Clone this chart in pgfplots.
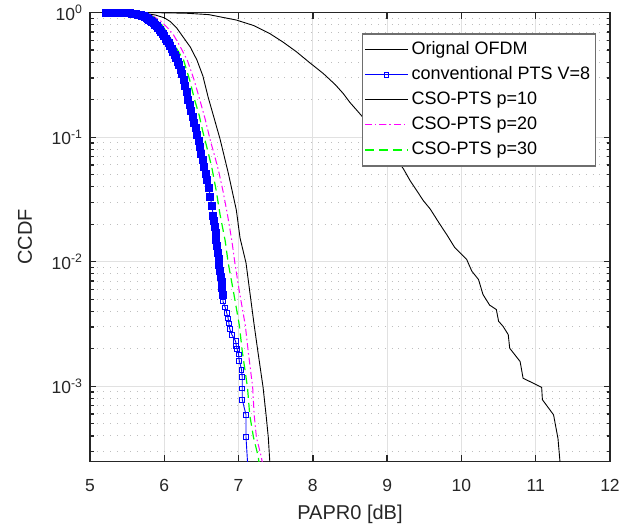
\documentclass[border=0pt]{standalone}
\usepackage{fontspec}
\setmainfont{Liberation Sans}
\usepackage{pgfplots}
\pgfplotsset{compat=1.18}

\definecolor{axgray}{RGB}{38,38,38}
\definecolor{gridgray}{RGB}{225,225,225}
\definecolor{minorgray}{RGB}{190,190,190}
\definecolor{leggray}{RGB}{110,110,110}
\definecolor{mgreen}{RGB}{0,255,0}
\definecolor{mmag}{RGB}{255,0,255}

\pgfplotstableread{
x y
5.25 1.0
5.50 1.0
6.00 0.998
6.30 0.99
6.60 0.965
6.97 0.873
7.20 0.79
7.42 0.68
7.60 0.58
7.78 0.485
7.95 0.40
8.14 0.325
8.30 0.265
8.41 0.224
8.50 0.19
8.63 0.155
8.80 0.118
9.00 0.085
9.22 0.0556
9.31 0.0447
9.49 0.0308
9.58 0.0265
9.71 0.0200
9.80 0.0166
9.91 0.0130
10.07 0.01045
10.14 0.0084
10.23 0.0072
10.29 0.00546
10.38 0.00448
10.47 0.00413
10.50 0.00333
10.56 0.00303
10.63 0.0026
10.65 0.00202
10.79 0.00158
10.83 0.00116
11.08 0.00098
11.09 0.00078
11.24 0.00059
11.30 0.00038
11.34 0.0002
}\orig

\pgfplotstableread{
x y
5.22 1.0
5.24 1.0
5.26 1.0
5.28 1.0
5.30 1.0
5.32 1.0
5.34 0.9998
5.36 0.9996
5.38 0.9994
5.40 0.9990
5.42 0.9984
5.44 0.9976
5.46 0.9966
5.48 0.9952
5.50 0.9935
5.52 0.9912
5.54 0.988
5.56 0.984
5.58 0.981
5.60 0.978
5.62 0.972
5.64 0.966
5.66 0.959
5.68 0.952
5.70 0.944
5.72 0.933
5.74 0.921
5.76 0.908
5.78 0.894
5.80 0.879
5.82 0.862
5.84 0.843
5.86 0.823
5.88 0.802
5.90 0.780
5.92 0.756
5.94 0.731
5.96 0.704
5.98 0.677
6.00 0.648
6.02 0.620
6.04 0.594
6.06 0.568
6.08 0.542
6.10 0.516
6.12 0.488
6.14 0.460
6.16 0.432
6.18 0.405
6.20 0.378
6.22 0.350
6.24 0.321
6.26 0.290
6.28 0.258
6.30 0.229
6.32 0.200
6.34 0.180
6.36 0.163
6.38 0.146
6.40 0.131
6.42 0.118
6.44 0.105
6.46 0.093
6.48 0.083
6.50 0.074
6.52 0.066
6.54 0.058
6.56 0.051
6.58 0.045
6.60 0.039
6.62 0.033
6.64 0.028
6.66 0.0235
6.67 0.0212
6.68 0.019
6.69 0.0169
6.70 0.0150
6.71 0.0133
6.72 0.0118
6.73 0.0105
6.74 0.0094
6.75 0.0085
6.76 0.0076
6.77 0.0069
6.78 0.0062
6.79 0.0054
}\ptsdense

\pgfplotstableread{
x y
6.79 0.0054
6.79 0.0048
6.82 0.0043
6.84 0.0039
6.86 0.0035
6.87 0.0032
6.88 0.0029
6.91 0.0026
6.96 0.0023
6.97 0.0021
6.98 0.0020
7.00 0.0018
7.01 0.0016
7.04 0.00136
7.05 0.00118
7.05 0.00096
7.05 0.00078
7.10 0.00059
7.10 0.00039
}\ptstail

\pgfplotstableread{
x y
7.10 0.00039
7.13 0.0002
}\ptsend

\pgfplotstableread{
x y
5.25 1.0
5.50 0.999
5.70 0.99
5.875 0.96
6.00 0.91
6.08 0.85
6.17 0.75
6.26 0.63
6.35 0.53
6.44 0.416
6.52 0.31
6.59 0.21
6.66 0.15
6.75 0.097
6.86 0.052
6.97 0.026
7.02 0.0155
7.10 0.0098
7.15 0.0058
7.21 0.0031
7.26 0.0019
7.33 0.00098
7.37 0.00059
7.40 0.00039
7.43 0.0002
}\pten

\pgfplotstableread{
x y
5.25 1.0
5.50 0.998
5.70 0.985
5.85 0.94
5.95 0.86
6.05 0.75
6.12 0.67
6.21 0.54
6.31 0.416
6.40 0.29
6.48 0.198
6.55 0.14
6.62 0.094
6.68 0.070
6.73 0.054
6.79 0.037
6.85 0.024
6.91 0.0147
6.95 0.0098
7.01 0.0058
7.09 0.0031
7.13 0.0019
7.19 0.00098
7.21 0.00059
7.24 0.00039
7.30 0.00028
7.35 0.0002
}\ptwenty

\pgfplotstableread{
x y
5.25 1.0
5.50 0.998
5.70 0.985
5.85 0.93
5.95 0.83
6.03 0.70
6.10 0.60
6.18 0.50
6.26 0.416
6.34 0.29
6.41 0.198
6.47 0.15
6.52 0.11
6.58 0.080
6.64 0.057
6.70 0.037
6.75 0.024
6.82 0.0147
6.86 0.0098
6.93 0.0058
7.01 0.0031
7.05 0.0019
7.12 0.00098
7.15 0.00059
7.20 0.00039
7.26 0.00028
7.30 0.0002
}\pthirty

\begin{document}
\begin{tikzpicture}
\begin{axis}[
  scale only axis,
  width=520pt, height=448.5pt,
  xmin=5, xmax=12,
  ymode=log, ymin=2.5e-4, ymax=1,
  xtick={5,6,7,8,9,10,11,12},
  xticklabels={5,6,7,8,9,10,11,12},
  ytick={1e-3,1e-2,1e-1,1},
  yticklabels={10\textsuperscript{-3},10\textsuperscript{-2},10\textsuperscript{-1},10\textsuperscript{0}},
  minor ytick={3e-4,4e-4,5e-4,6e-4,7e-4,8e-4,9e-4,
               2e-3,3e-3,4e-3,5e-3,6e-3,7e-3,8e-3,9e-3,
               2e-2,3e-2,4e-2,5e-2,6e-2,7e-2,8e-2,9e-2,
               2e-1,3e-1,4e-1,5e-1,6e-1,7e-1,8e-1,9e-1},
  xmajorgrids, ymajorgrids, yminorgrids,
  major grid style={gridgray, line width=1pt},
  minor grid style={minorgray, line width=0.9pt, dash pattern=on 0.9pt off 5.8pt},
  axis line style={axgray, line width=1.4pt},
  tick style={axgray, line width=1.4pt},
  major tick length=6pt, minor tick length=3.5pt,
  tick align=inside,
  tick label style={font=\fontsize{17.5}{20}\selectfont, text=axgray},
  xticklabel style={anchor=center, yshift=-24pt},
  yticklabel style={anchor=east, xshift=-4pt},
  xlabel={PAPR0 [dB]},
  ylabel={CCDF},
  xlabel style={font=\fontsize{20}{24}\selectfont, text=axgray, at={(axis description cs:0.5,0)}, anchor=center, yshift=-53pt},
  ylabel style={font=\fontsize{20}{24}\selectfont, text=axgray, at={(axis description cs:-0.125,0.5)}, anchor=center},
  legend cell align=left,
  legend image code/.code={\draw[mark repeat=2,mark phase=2,#1] plot coordinates {(0pt,0pt) (21.5pt,0pt) (43pt,0pt)};},
  legend style={at={(axis description cs:0.5225,0.954)}, anchor=north west,
    font=\fontsize{18}{21}\selectfont, draw=leggray, line width=1.2pt, fill=white,
    inner xsep=2pt, inner ysep=6pt, row sep=5pt,
    nodes={inner xsep=3pt, inner ysep=2pt, text height=12.5pt, text depth=3.5pt}},
]
\addplot[black, line width=0.9pt, no marks] table {\orig};
\addlegendentry{Orignal OFDM}
\addplot[blue, line width=0.9pt, no marks, forget plot] table {\ptsdense};
\addplot[blue, line width=0.9pt, no marks, forget plot] table {\ptstail};
\addplot[blue, line width=0.9pt, no marks, forget plot] table {\ptsend};
\addplot[blue, only marks, mark=square*, mark size=3.5pt, mark options={line width=0.9pt, solid, fill=blue}, forget plot] table {\ptsdense};
\addplot[blue, only marks, mark=square, mark size=2.4pt, mark options={line width=0.9pt, solid}, forget plot] table {\ptstail};
\addlegendimage{blue, line width=0.9pt, mark=square, mark size=2.4pt, mark options={line width=0.9pt, solid}}
\addlegendentry{conventional PTS V=8}
\addplot[black, line width=0.9pt, no marks] table {\pten};
\addlegendentry{CSO-PTS p=10}
\addplot[mmag, line width=1pt, no marks, dash pattern=on 7pt off 3pt on 1.5pt off 3pt] table {\ptwenty};
\addlegendentry{CSO-PTS p=20}
\addplot[mgreen, line width=1.2pt, no marks, dash pattern=on 9pt off 5pt] table {\pthirty};
\addlegendentry{CSO-PTS p=30}
\end{axis}
\pgfresetboundingbox
\path[use as bounding box] ([xshift=-90pt,yshift=-65pt]current axis.south west) rectangle ([xshift=23pt,yshift=12.7pt]current axis.north east);
\end{tikzpicture}
\end{document}
